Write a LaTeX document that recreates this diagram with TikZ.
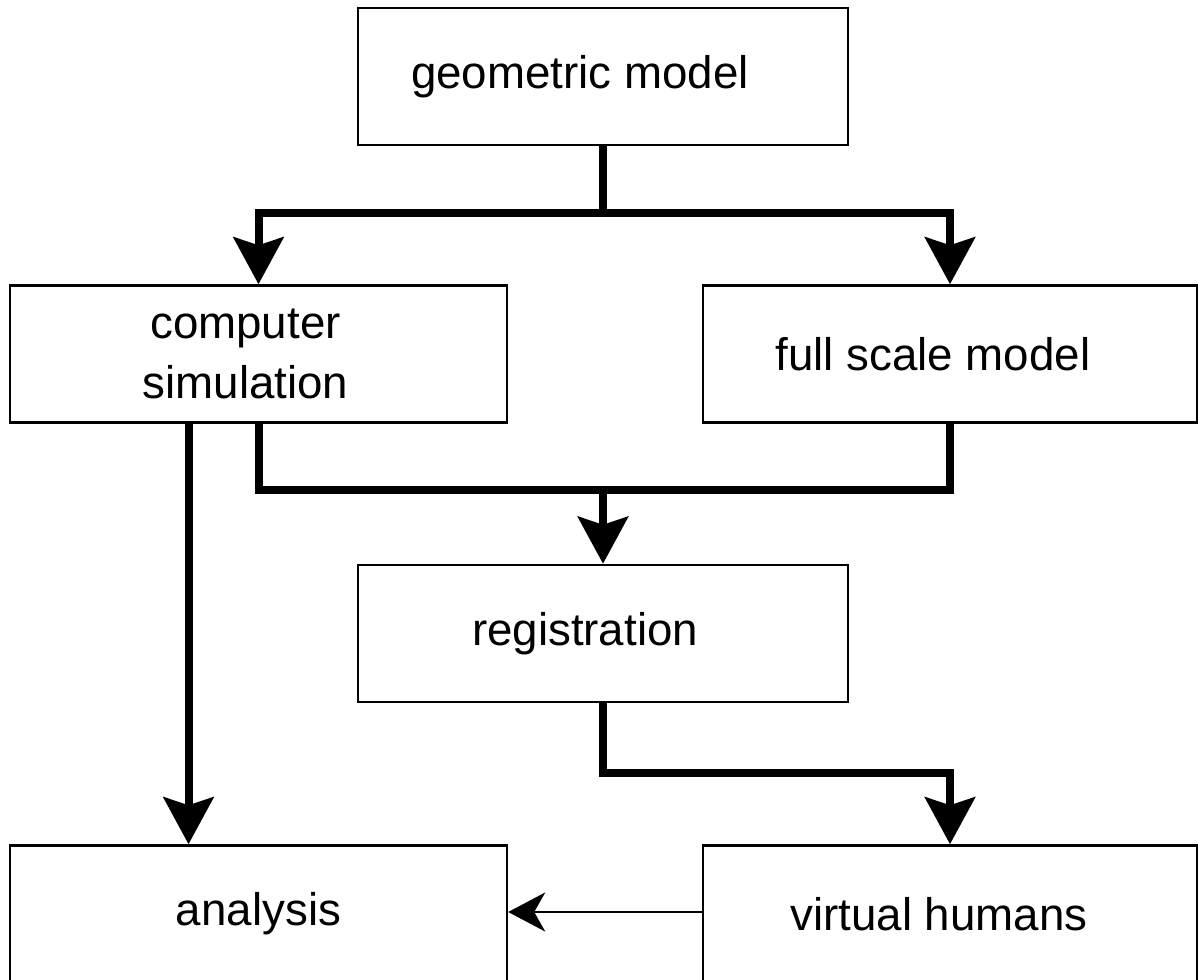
\documentclass[tikz,border=0pt]{standalone}
\usepackage{fontspec}
\setmainfont{Liberation Sans}
\usepackage{tikz}
\usetikzlibrary{arrows.meta,positioning,calc}
\newcommand\blockfont{\fontsize{26}{34}\selectfont}
\tikzset{
    block/.style={
        rectangle, draw=black, line width=0.05cm, inner sep=0pt,
        minimum height=2.74cm, align=center, font=\blockfont
    },
    bus/.style={draw, line width=0.16cm},
    busarrow/.style={bus, -{Stealth[length=0.94cm, width=1cm, inset=0.16cm]}},
    thinarrow/.style={draw, line width=0.05cm, -{Stealth[length=0.74cm, width=0.78cm, inset=0.22cm]}}
}
\begin{document}
\begin{tikzpicture}[x=0.02cm, y=-0.02cm]
\useasboundingbox (0,0) rectangle (1198,980);

%% Boxes -- pixel grid, y grows downwards
\node[block, minimum width=9.8cm]  (geo)  at (603, 76.5) {\hspace*{-0.92cm}geometric model};
\node[block, minimum width=9.94cm] (comp) at (258.5, 354) {\hspace*{-0.52cm}computer\\\hspace*{-0.52cm}simulation};
\node[block, minimum width=9.88cm] (full) at (950, 354)   {\hspace*{-0.68cm}full scale model};
\node[block, minimum width=9.8cm]  (reg)  at (603, 633.5) {\hspace*{-0.72cm}registration};
\node[block, minimum width=9.94cm] (ana)  at (258.5, 914) {analysis};
\node[block, minimum width=9.88cm] (virt) at (950, 914)   {\hspace*{-0.44cm}virtual humans};

%% Heights of the three horizontal buses
\coordinate (bus1) at (0, 213);
\coordinate (bus2) at (0, 490);
\coordinate (bus3) at (0, 773);

%% geometric model -> computer simulation / full scale model
\draw[busarrow] (geo.south) -- (geo.south |- bus1) -| (comp.north);
\draw[busarrow] (geo.south |- bus1) -| (full.north);

%% both models -> registration
\draw[bus] (comp.south) |- (full.south |- bus2) -- (full.south);
\draw[busarrow] (reg.north |- bus2) -- (reg.north);

%% computer simulation -> analysis
\draw[busarrow] ([xshift=-1.4cm]comp.south) -- ([xshift=-1.4cm]ana.north);

%% registration -> virtual humans -> analysis
\draw[busarrow] (reg.south) -- (reg.south |- bus3) -| (virt.north);
\draw[thinarrow] ([yshift=0.04cm]virt.west) -- ([yshift=0.04cm]ana.east);

\end{tikzpicture}
\end{document}
